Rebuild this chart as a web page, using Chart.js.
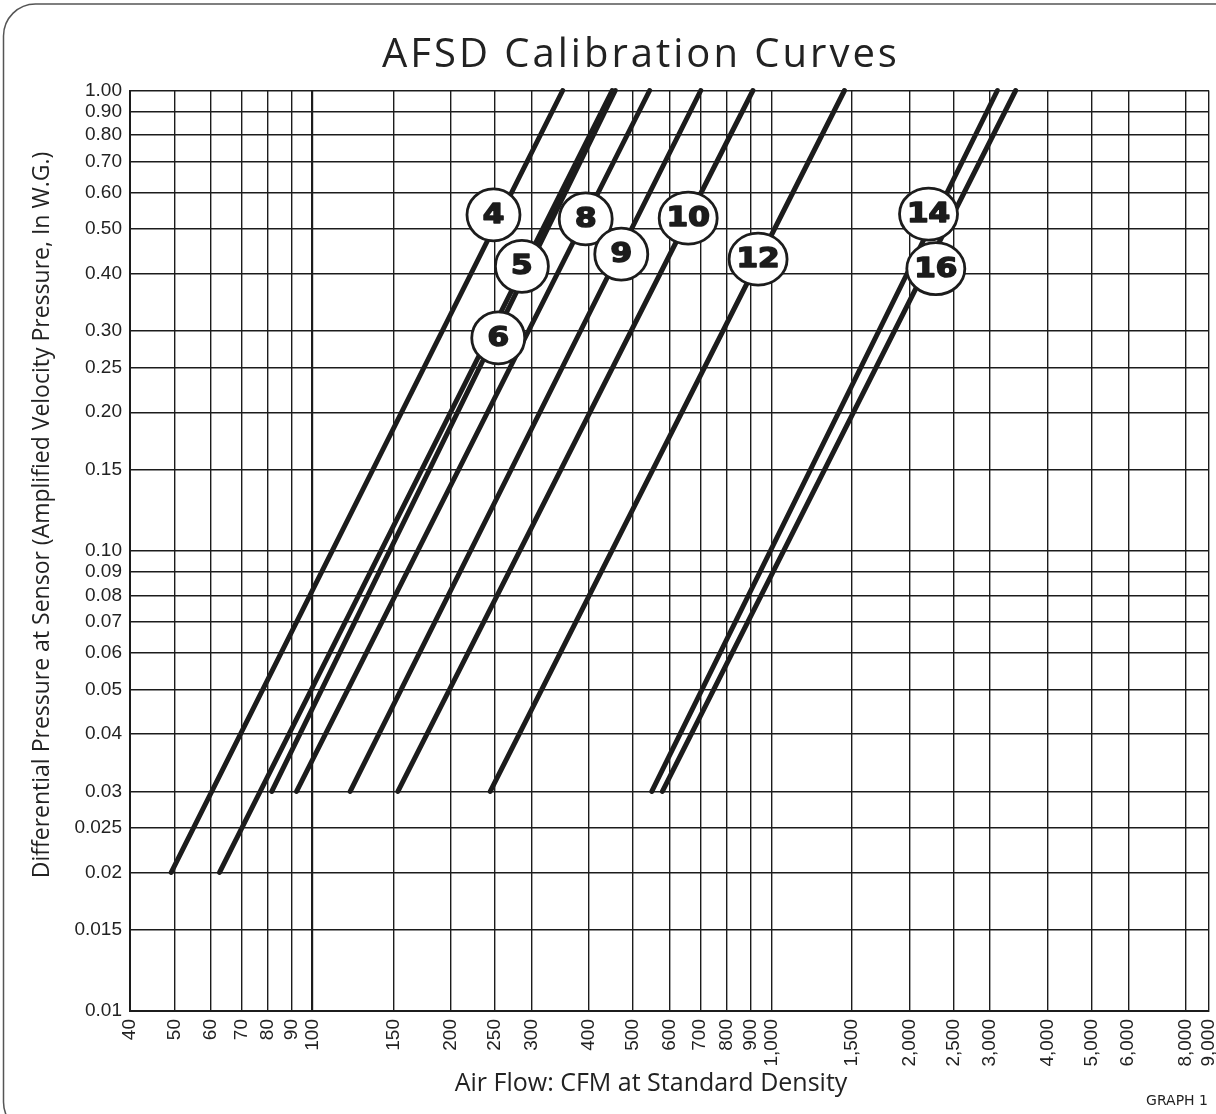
<!DOCTYPE html>
<html>
<head>
<meta charset="utf-8">
<title>AFSD Calibration Curves</title>
<script src="https://cdn.jsdelivr.net/npm/chart.js@4.4.0/dist/chart.umd.min.js"></script>
<style>
    html, body { margin: 0; padding: 0; background: #fff; }
    canvas { display: block; }
</style>
</head>
<body>
<canvas id="afsd-chart" width="1216" height="1114"></canvas>
<script>
// Curve data (CFM vs in. W.G.)
const curveIds = ['4', '5', '6', '8', '9', '10', '12', '14', '16'];
const lowFlow = [49.2, 62.7, 81.5, 92.3, 120.8, 153.5, 244, 549, 579];
const lowPressure = [0.02, 0.02, 0.03, 0.03, 0.03, 0.03, 0.03, 0.03, 0.03];
const highFlow = [351, 450, 457, 543, 702, 912, 1444, 3111, 3410];
const highPressure = [1, 1, 1, 1, 1, 1, 1, 1, 1];

// where the circled size tags sit on the graph
const tagFlow = [248, 286, 254, 394, 471, 659, 936, 2202, 2284];
const tagPressure = [0.537, 0.415, 0.29, 0.526, 0.441, 0.528, 0.43, 0.539, 0.41];

// Axis ticks
const xTicks = [40, 50, 60, 70, 80, 90, 100, 150, 200, 250, 300, 400, 500, 600, 700, 800, 900,
    1000, 1500, 2000, 2500, 3000, 4000, 5000, 6000, 8000, 9000];
const xTickLabels = xTicks.map(v => v.toLocaleString('en-US'));
const yTicks = [1, 0.9, 0.8, 0.7, 0.6, 0.5, 0.4, 0.3, 0.25, 0.2, 0.15, 0.1, 0.09, 0.08, 0.07,
    0.06, 0.05, 0.04, 0.03, 0.025, 0.02, 0.015, 0.01];
const yTickLabels = ['1.00', '0.90', '0.80', '0.70', '0.60', '0.50', '0.40', '0.30', '0.25', '0.20',
    '0.15', '0.10', '0.09', '0.08', '0.07', '0.06', '0.05', '0.04', '0.03', '0.025', '0.02', '0.015', '0.01'];

const majorValues = [100];
const ink = '#1c1c1c';

// Build one dataset per curve
const datasets = curveIds.map((id, i) => ({
    label: id,
    data: [
        { x: lowFlow[i], y: lowPressure[i] },
        { x: highFlow[i], y: highPressure[i] }
    ],
    showLine: true,
    borderColor: ink,
    borderWidth: 5,
    borderCapStyle: 'round',
    pointRadius: 0,
    clip: false
}));

// Rounded page frame + white background
const framePlugin = {
    id: 'frame',
    beforeDraw(chart) {
        const ctx = chart.ctx;
        ctx.save();
        ctx.fillStyle = '#fff';
        ctx.fillRect(0, 0, chart.width, chart.height);
        ctx.strokeStyle = '#555';
        ctx.lineWidth = 1.5;
        ctx.beginPath();
        ctx.roundRect(3.5, 4, 1300, 1130, 32);
        ctx.stroke();
        ctx.restore();
    }
};

// Circled curve numbers
const tagPlugin = {
    id: 'tags',
    afterDatasetsDraw(chart) {
        const ctx = chart.ctx;
        const xs = chart.scales.x;
        const ys = chart.scales.y;
        ctx.save();
        curveIds.forEach((id, i) => {
            const cx = xs.getPixelForValue(tagFlow[i]);
            const cy = ys.getPixelForValue(tagPressure[i]);
            const rx = id.length > 1 ? 29 : 26.5;
            ctx.beginPath();
            ctx.ellipse(cx, cy, rx, 26, 0, 0, Math.PI * 2);
            ctx.fillStyle = '#fff';
            ctx.fill();
            ctx.lineWidth = 2.8;
            ctx.strokeStyle = ink;
            ctx.stroke();

            // heavy numerals: bold fill plus a thin outline
            ctx.save();
            ctx.translate(cx, cy + 1);
            ctx.scale(1.15, 1);
            ctx.fillStyle = ink;
            ctx.strokeStyle = ink;
            ctx.lineWidth = 1.6;
            ctx.lineJoin = 'round';
            ctx.font = 'bold 27px "DejaVu Sans"';
            ctx.textAlign = 'center';
            ctx.textBaseline = 'middle';
            ctx.fillText(id, 0, 0);
            ctx.strokeText(id, 0, 0);
            ctx.restore();
        });
        ctx.restore();
    }
};

// Title, axis titles and the graph number
const textPlugin = {
    id: 'texts',
    afterDraw(chart) {
        const ctx = chart.ctx;
        ctx.save();
        ctx.fillStyle = '#222';
        ctx.textAlign = 'center';
        ctx.textBaseline = 'alphabetic';

        ctx.font = '40px "Open Sans"';
        ctx.letterSpacing = '3px';
        ctx.fillText('AFSD Calibration Curves', 641, 67);
        ctx.letterSpacing = '0px';

        ctx.font = '25px "Open Sans"';
        ctx.textBaseline = 'middle';
        ctx.fillText('Air Flow: CFM at Standard Density', 651, 1084);

        ctx.save();
        ctx.translate(42, 515);
        ctx.rotate(-Math.PI / 2);
        ctx.font = '23px "Open Sans"';
        ctx.fillText('Differential Pressure at Sensor (Amplified Velocity Pressure, In W.G.)', 0, 0);
        ctx.restore();

        ctx.font = '14px "DejaVu Sans"';
        ctx.textAlign = 'right';
        ctx.fillText('GRAPH 1', 1208, 1101);
        ctx.restore();
    }
};

function gridWidth(context) {
    const v = context.tick ? context.tick.value : null;
    return majorValues.includes(v) ? 2.2 : 1.4;
}

new Chart(document.getElementById('afsd-chart'), {
    type: 'scatter',
    data: { datasets: datasets },
    options: {
        responsive: false,
        animation: false,
        devicePixelRatio: 1,
        layout: {
            padding: { top: 90.5, right: 7, bottom: 0, left: 0 }
        },
        plugins: {
            legend: { display: false },
            tooltip: { enabled: false },
            title: { display: false }
        },
        scales: {
            x: {
                type: 'logarithmic',
                min: 40,
                max: 9000,
                afterBuildTicks: scale => {
                    scale.ticks = xTicks.map(v => ({ value: v }));
                },
                afterFit: scale => {
                    scale.height = 103;
                    scale.paddingLeft = 0;
                    scale.paddingRight = 0;
                },
                grid: {
                    color: ink,
                    lineWidth: gridWidth,
                    drawTicks: false
                },
                border: { color: ink, width: 2 },
                ticks: {
                    autoSkip: false,
                    minRotation: 90,
                    maxRotation: 90,
                    padding: 8,
                    color: '#222',
                    font: { family: '"Liberation Sans"', size: 19 },
                    callback: (value, index) => xTickLabels[index]
                }
            },
            y: {
                type: 'logarithmic',
                min: 0.01,
                max: 1,
                afterBuildTicks: scale => {
                    scale.ticks = yTicks.map(v => ({ value: v }));
                },
                afterFit: scale => {
                    scale.width = 130;
                    scale.paddingTop = 0;
                    scale.paddingBottom = 0;
                },
                grid: {
                    color: ink,
                    lineWidth: gridWidth,
                    drawTicks: false
                },
                border: { color: ink, width: 2 },
                ticks: {
                    autoSkip: false,
                    padding: 8,
                    color: '#222',
                    font: { family: '"Liberation Sans"', size: 19 },
                    callback: (value, index) => yTickLabels[index]
                }
            }
        }
    },
    plugins: [framePlugin, tagPlugin, textPlugin]
});
</script>
</body>
</html>
